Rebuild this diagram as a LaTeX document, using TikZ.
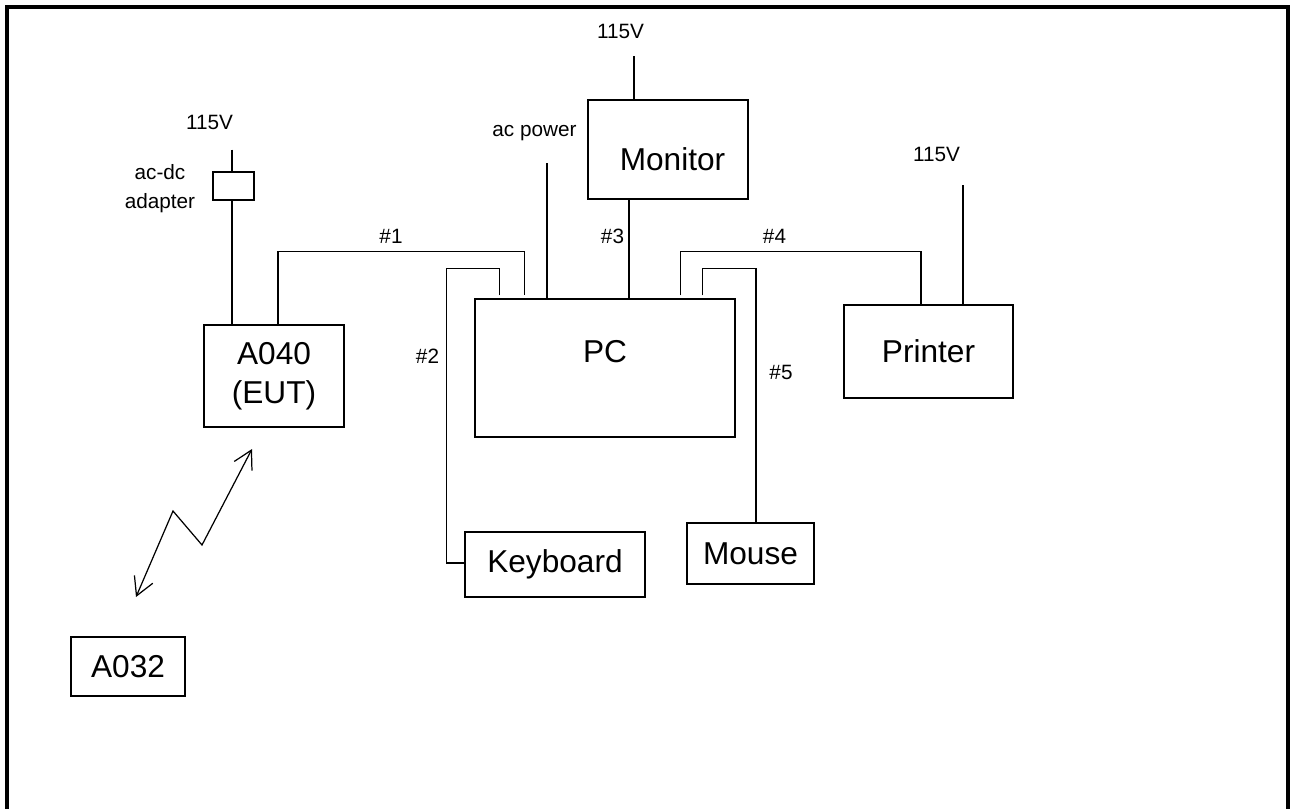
\documentclass[tikz,border=0pt]{standalone}
\usepackage{fontspec}
\setmainfont{Liberation Sans}
\usetikzlibrary{arrows.meta}

\begin{document}
\begin{tikzpicture}[
    % Estilos de las cajas
    box/.style={draw, line width=0.7pt, inner sep=0pt, align=center,
        font=\fontsize{18}{22}\selectfont},
    small/.style={inner sep=0pt, align=center, font=\fontsize{11.8}{16.5}\selectfont},
    % Estilos de cables
    wire/.style={line width=0.7pt},
    radio/.style={line width=0.7pt, {Straight Barb[length=3.6mm,width=4mm]}-{Straight Barb[length=3.6mm,width=4mm]}},
    frame/.style={line width=2.3pt}
]
\useasboundingbox (0,0) rectangle (25.84,-16.16);

% ==========================================
% MARCO
% ==========================================
\draw[frame] (0.14,-16.4) |- (25.76,-0.14) -- (25.76,-16.4);

% ==========================================
% EQUIPOS
% ==========================================
\node[box, minimum width=2.8cm, minimum height=2.04cm] (eut) at (5.48,-7.52) {A040\\(EUT)};
\node[box, minimum width=0.82cm, minimum height=0.56cm] (adapter) at (4.67,-3.72) {};
\node[box, minimum width=5.2cm, minimum height=2.76cm] (pc) at (12.10,-7.36) {};
\node[box, minimum width=3.2cm, minimum height=1.98cm] (monitor) at (13.36,-2.99) {};
\node[box, minimum width=3.38cm, minimum height=1.86cm] (printer) at (18.57,-7.03) {Printer};
\node[box, minimum width=3.6cm, minimum height=1.3cm] (kbd) at (11.10,-11.29) {Keyboard};
\node[box, minimum width=2.54cm, minimum height=1.22cm] (mouse) at (15.01,-11.07) {Mouse};
\node[box, minimum width=2.28cm, minimum height=1.18cm] (aux) at (2.56,-13.33) {A032};

% Textos desplazados dentro de la caja
\node[box, draw=none] (pctxt) at ([yshift=0.32cm]pc.center) {PC};
\node[box, draw=none] (montxt) at ([xshift=0.09cm,yshift=-0.2cm]monitor.center) {Monitor};

% ==========================================
% ALIMENTACION
% ==========================================
\coordinate (eutin) at (4.64,-2.99);
\coordinate (acin) at (10.94,-3.26);
\coordinate (monin) at (12.68,-1.12);
\coordinate (prnin) at (19.26,-3.70);

\draw[wire] (eutin) -- (eutin |- adapter.north);
\draw[wire] (adapter.south -| eutin) -- (eutin |- eut.north);
\draw[wire] (acin) -- (acin |- pc.north);
\draw[wire] (monin) -- (monin |- monitor.north);
\draw[wire] (prnin) -- (prnin |- printer.north);

\node[small] (v1) at (4.19,-2.44) {115V};
\node[small] (adptxt) at (3.20,-3.78) {ac-dc\\adapter};
\node[small] (acpow) at (10.69,-2.66) {ac power};
\node[small] (v2) at (12.41,-0.62) {115V};
\node[small] (v3) at (18.73,-3.09) {115V};

% ==========================================
% CABLES
% ==========================================
% #1 EUT - PC
\draw[wire] ([xshift=0.08cm]eut.north) |- ([xshift=1cm,yshift=0.94cm]pc.north west)
    -- ([xshift=1cm,yshift=0.06cm]pc.north west);
% #2 PC - Keyboard
\draw[wire] ([xshift=0.5cm,yshift=0.06cm]pc.north west) -- ([xshift=0.5cm,yshift=0.6cm]pc.north west)
    -| ([xshift=-0.36cm,yshift=0.03cm]kbd.west) -- ([yshift=0.03cm]kbd.west);
% #3 Monitor - PC
\draw[wire] ([xshift=-0.78cm]monitor.south) -- ([xshift=-0.78cm]monitor.south |- pc.north);
% #4 PC - Printer
\draw[wire] ([xshift=4.12cm,yshift=0.06cm]pc.north west) |- ([xshift=-0.15cm,yshift=1.06cm]printer.north)
    -- ([xshift=-0.15cm]printer.north);
% #5 PC - Mouse
\draw[wire] ([xshift=4.56cm,yshift=0.06cm]pc.north west) -- ([xshift=4.56cm,yshift=0.6cm]pc.north west)
    -| ([xshift=0.11cm]mouse.north);

\node[small] (c1) at (7.82,-4.73) {\#1};
\node[small] (c2) at (8.55,-7.12) {\#2};
\node[small] (c3) at (12.25,-4.72) {\#3};
\node[small] (c4) at (15.49,-4.72) {\#4};
\node[small] (c5) at (15.62,-7.44) {\#5};

% ==========================================
% ENLACE INALAMBRICO
% ==========================================
\coordinate (rfa) at (2.72,-11.94);
\coordinate (rfb) at (5.04,-8.98);
\draw[radio] (rfa) -- (3.46,-10.22) -- (4.04,-10.90) -- (rfb);

\end{tikzpicture}
\end{document}
